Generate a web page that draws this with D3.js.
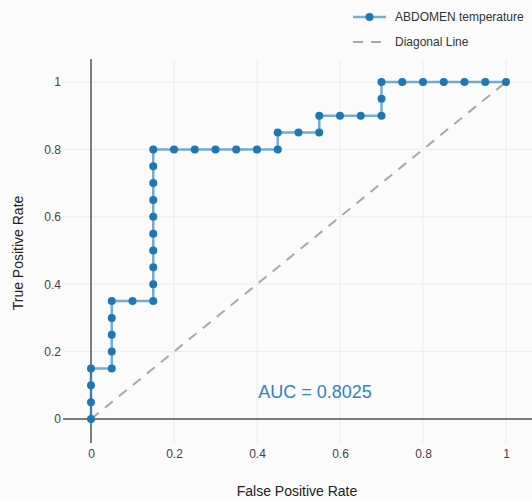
<!DOCTYPE html>
<meta charset="utf-8">
<style>
body { margin: 0; background: #fbfbfb; font-family: "Liberation Sans", Arial, sans-serif; }
.grid line { stroke: #ececec; stroke-width: 1px; }
.tick text { font-size: 12px; fill: #444; }
.title { font-size: 14px; fill: #222; }
.legend text { font-size: 12px; fill: #333; }
</style>
<body>
<svg id="chart" width="532" height="501"></svg>
<script src="https://d3js.org/d3.v7.min.js"></script>
<script>
    // ROC points (false positive rate, true positive rate)
    var fpr = [0, 0, 0, 0, 0.05, 0.05, 0.05, 0.05, 0.05, 0.1, 0.15, 0.15, 0.15, 0.15, 0.15, 0.15, 0.15, 0.15, 0.15, 0.15,
        0.2, 0.25, 0.3, 0.35, 0.4, 0.45, 0.45, 0.5, 0.55, 0.55, 0.6, 0.65, 0.7, 0.7, 0.7, 0.75, 0.8, 0.85, 0.9, 0.95, 1];
    var tpr = [0, 0.05, 0.1, 0.15, 0.15, 0.2, 0.25, 0.3, 0.35, 0.35, 0.35, 0.4, 0.45, 0.5, 0.55, 0.6, 0.65, 0.7, 0.75, 0.8,
        0.8, 0.8, 0.8, 0.8, 0.8, 0.8, 0.85, 0.85, 0.85, 0.9, 0.9, 0.9, 0.9, 0.95, 1, 1, 1, 1, 1, 1, 1];
    var diagonal = [[0, 0], [1, 1]];
    var ticks = [0, 0.2, 0.4, 0.6, 0.8, 1];
    var seriesName = "ABDOMEN temperature";
    var diagName = "Diagonal Line";
    var aucLabel = "AUC = 0.8025";

    var plot = {left: 63, right: 532, top: 59, bottom: 443};
    var x = d3.scaleLinear().domain([0, 1]).range([91, 506]);
    var y = d3.scaleLinear().domain([0, 1]).range([419, 82]);

    var svg = d3.select("#chart");
    var blue = "#1f77b4";

    // grid lines
    var grid = svg.append("g").attr("class", "grid");
    grid.selectAll(".gx").data(ticks.slice(1)).enter().append("line")
        .attr("x1", d => x(d)).attr("x2", d => x(d))
        .attr("y1", plot.top).attr("y2", plot.bottom);
    grid.selectAll(".gy").data(ticks.slice(1)).enter().append("line")
        .attr("y1", d => y(d)).attr("y2", d => y(d))
        .attr("x1", plot.left).attr("x2", plot.right);

    // zero lines
    svg.append("line").attr("x1", x(0)).attr("x2", x(0)).attr("y1", plot.top).attr("y2", plot.bottom)
        .attr("stroke", "#555").attr("stroke-width", 1.5);
    svg.append("line").attr("x1", plot.left).attr("x2", plot.right).attr("y1", y(0)).attr("y2", y(0))
        .attr("stroke", "#555").attr("stroke-width", 1.5);

    // axes (labels only)
    var xAxis = svg.append("g").attr("transform", "translate(0," + (plot.bottom + 1) + ")")
        .call(d3.axisBottom(x).tickValues(ticks).tickFormat(d3.format("~g")).tickSize(0).tickPadding(5));
    xAxis.select(".domain").remove();
    var yAxis = svg.append("g").attr("transform", "translate(" + (plot.left - 2) + ",0)")
        .call(d3.axisLeft(y).tickValues(ticks).tickFormat(d3.format("~g")).tickSize(0).tickPadding(0));
    yAxis.select(".domain").remove();
    svg.selectAll(".tick text").attr("font-family", null);

    // diagonal
    var line = d3.line().x(d => x(d[0])).y(d => y(d[1]));
    svg.append("path").datum(diagonal).attr("d", line)
        .attr("fill", "none").attr("stroke", "#a8a8a8").attr("stroke-width", 2)
        .attr("stroke-dasharray", "10,8");

    // ROC curve
    var pts = fpr.map((v, i) => [v, tpr[i]]);
    svg.append("path").datum(pts).attr("d", line)
        .attr("fill", "none").attr("stroke", blue).attr("stroke-opacity", 0.6).attr("stroke-width", 2.5);
    svg.selectAll(".pt").data(pts).enter().append("circle")
        .attr("cx", d => x(d[0])).attr("cy", d => y(d[1])).attr("r", 4)
        .attr("fill", blue);

    // AUC annotation
    svg.append("text").attr("x", x(0.54)).attr("y", y(0.08)).attr("dy", "0.35em")
        .attr("text-anchor", "middle").attr("font-size", "18px").attr("fill", "#2f83c3")
        .text(aucLabel);

    // axis titles
    svg.append("text").attr("class", "title").attr("x", 297).attr("y", 496)
        .attr("text-anchor", "middle").text("False Positive Rate");
    svg.append("text").attr("class", "title").attr("transform", "translate(23,253) rotate(-90)")
        .attr("text-anchor", "middle").text("True Positive Rate");

    // legend
    var lg = svg.append("g").attr("class", "legend");
    lg.append("line").attr("x1", 353).attr("x2", 386).attr("y1", 17).attr("y2", 17)
        .attr("stroke", blue).attr("stroke-opacity", 0.6).attr("stroke-width", 2.5);
    lg.append("circle").attr("cx", 369.5).attr("cy", 17).attr("r", 4).attr("fill", blue);
    lg.append("text").attr("x", 395).attr("y", 17).attr("dy", "0.35em").text(seriesName);
    lg.append("line").attr("x1", 353).attr("x2", 386).attr("y1", 42).attr("y2", 42)
        .attr("stroke", "#a8a8a8").attr("stroke-width", 2).attr("stroke-dasharray", "10,8");
    lg.append("text").attr("x", 395).attr("y", 42).attr("dy", "0.35em").text(diagName);
</script>
</body>
